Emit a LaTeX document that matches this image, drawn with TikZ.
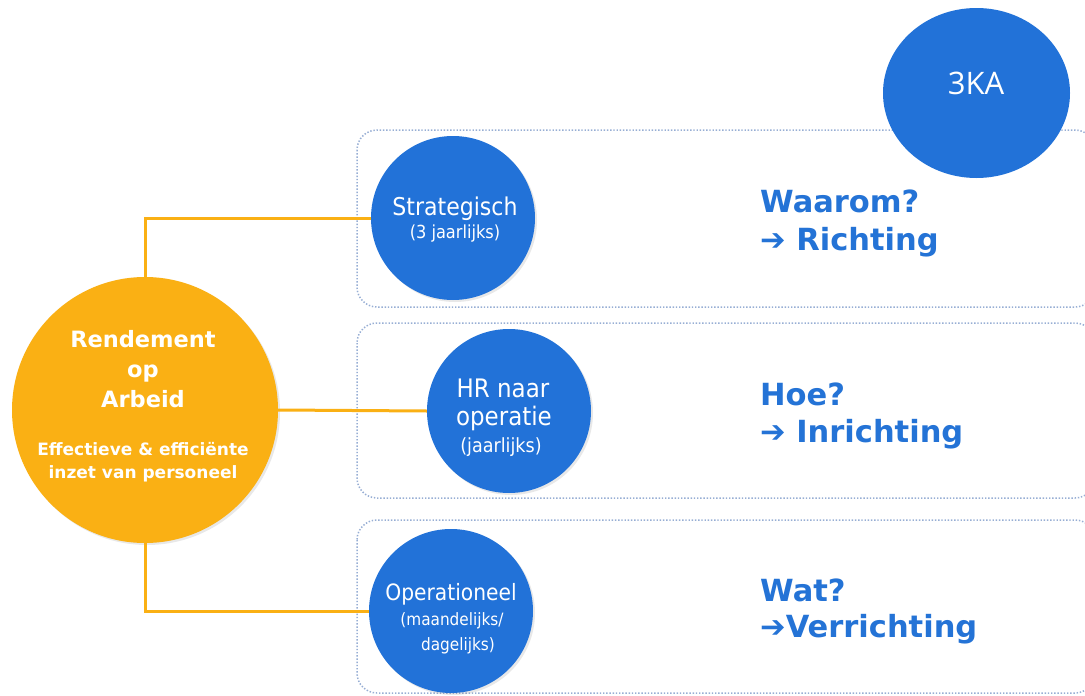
\documentclass[tikz,border=0pt]{standalone}
\usepackage{fontspec}
\usetikzlibrary{shapes.geometric,shadows}
\setmainfont{DejaVu Sans}
\newfontfamily\condf{DejaVu Sans Condensed}
\newfontfamily\kafont{Open Sans}
\definecolor{orng}{HTML}{FAB014}
\definecolor{blu}{HTML}{2272D8}
\definecolor{txtblu}{HTML}{2473D6}
\definecolor{dotc}{HTML}{97AED4}
\begin{document}
\begin{tikzpicture}[x=1pt,y=-1pt,
  bigcirc/.style={circle,fill=orng,minimum size=266pt,inner sep=0pt,drop shadow={opacity=0.18,shadow xshift=2pt,shadow yshift=-2pt}},
  bluecirc/.style={circle,fill=blu,minimum size=164pt,inner sep=0pt,drop shadow={opacity=0.18,shadow xshift=2pt,shadow yshift=-2pt}},
  dotbox/.style={draw=dotc,line width=1.5pt,dash pattern=on 1.4pt off 1.8pt,rounded corners=20pt},
  link/.style={draw=orng,line width=3pt},
  ctext/.style={anchor=base,text=white,inner sep=0pt},
  rtext/.style={anchor=base west,text=txtblu,inner sep=0pt,font=\bfseries\fontsize{30.5}{36}\selectfont}]
\useasboundingbox (0,0) rectangle (1085,696);
\fill[white] (0,0) rectangle (1085,696);
% dotted boxes
\draw[dotbox] (357,130) rectangle (1095,307);
\draw[dotbox] (357,323) rectangle (1095,498);
\draw[dotbox] (357,520) rectangle (1095,693);
% circles
\node[bigcirc] (ra) at (145,410) {};
\node[bluecirc] (st) at (453,218) {};
\node[bluecirc] (hr) at (509,411) {};
\node[bluecirc] (op) at (451,611) {};
% connectors
\draw[link] (ra.north) |- (st.west);
\draw[link] (ra.east) -- (hr.west);
\draw[link] (ra.south) |- (op.west);
% orange text
\node[ctext,font=\bfseries\fontsize{22.5}{26}\selectfont] (t1) at (143,347) {Rendement};
\node[ctext,font=\bfseries\fontsize{22.5}{26}\selectfont] (t2) at (143,377) {op};
\node[ctext,font=\bfseries\fontsize{22.5}{26}\selectfont] (t3) at (143,407) {Arbeid};
\node[ctext,font=\bfseries\fontsize{17}{20}\selectfont] (t4) at (143,455) {Effectieve \& efficiënte};
\node[ctext,font=\bfseries\fontsize{17}{20}\selectfont] (t5) at (143,478) {inzet van personeel};
% strategisch
\node[ctext,font=\condf\fontsize{24.5}{28}\selectfont] (s1) at (455,215) {Strategisch};
\node[ctext,font=\condf\fontsize{18}{20}\selectfont] (s2) at (455,238) {(3 jaarlijks)};
% HR
\node[ctext,font=\condf\fontsize{25.5}{28}\selectfont] (h1) at (503,397) {HR naar};
\node[ctext,font=\condf\fontsize{25.5}{28}\selectfont] (h2) at (504,425) {operatie};
\node[ctext,font=\condf\fontsize{19.5}{22}\selectfont] (h3) at (501,452) {(jaarlijks)};
% operationeel
\node[ctext,font=\condf\fontsize{22.5}{26}\selectfont] (o1) at (451,600) {Operationeel};
\node[ctext,font=\condf\fontsize{17}{20}\selectfont] (o2) at (452,625) {(maandelijks/};
\node[ctext,font=\condf\fontsize{17}{20}\selectfont] (o3) at (458,650) {dagelijks)};
% right texts
\node[rtext] (w1) at (760,212) {Waarom?};
\node[rtext] (w2) at (760,250) {➔ Richting};
\node[rtext] (w3) at (760,405) {Hoe?};
\node[rtext] (w4) at (760,442) {➔ Inrichting};
\node[rtext] (w5) at (760,601) {Wat?};
\node[rtext] (w6) at (760,637) {➔Verrichting};
% 3KA
\node[ellipse,fill=blu,minimum width=187pt,minimum height=170pt,inner sep=0pt] (ka) at (976.5,93) {};
\node[anchor=center,text=white,font=\kafont\fontsize{31}{34}\selectfont,inner sep=0pt] (kat) at (976,83) {3KA};
\end{tikzpicture}
\end{document}
